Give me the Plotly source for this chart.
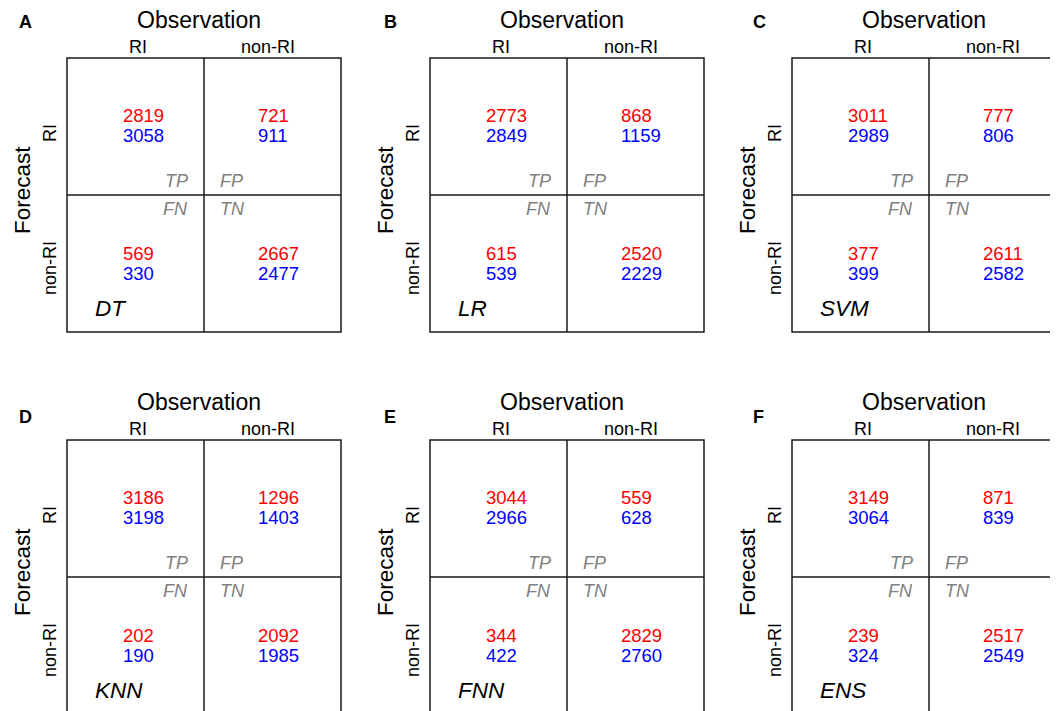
import plotly.graph_objects as go

# ---------------- data ----------------
panel_letters = ["A", "B", "C", "D", "E", "F"]
models = ["DT", "LR", "SVM", "KNN", "FNN", "ENS"]
col_labels = ["RI", "non-RI"]
row_labels = ["RI", "non-RI"]
cell_tags = ["TP", "FP", "FN", "TN"]

tp_red = [2819, 2773, 3011, 3186, 3044, 3149]
fp_red = [721, 868, 777, 1296, 559, 871]
fn_red = [569, 615, 377, 202, 344, 239]
tn_red = [2667, 2520, 2611, 2092, 2829, 2517]

tp_blue = [3058, 2849, 2989, 3198, 2966, 3064]
fp_blue = [911, 1159, 806, 1403, 628, 839]
fn_blue = [330, 539, 399, 190, 422, 324]
tn_blue = [2477, 2229, 2582, 1985, 2760, 2549]

# ---------------- layout constants ----------------
W, H = 1058, 711
PAGE_OFFSET = 8  # default body margin of the html page
FONT = "Liberation Sans, Arial, sans-serif"
RED = "#ff0000"
BLUE = "#0000ff"
GRAY = "#808080"
LINE = "#1a1a1a"

box_left = [67, 430, 792, 67, 430, 792]
box_top = [58, 58, 58, 440, 440, 440]
letter_pos = [(25, 22), (390, 22), (759, 22), (25, 417), (390, 417), (758, 417)]
BOX_W, BOX_H = 274, 274
HALF_W, HALF_H = 137, 137

fig = go.Figure()
shapes = []
ann = []


def add_text(x, y, text, size, color="black", xanchor="center", angle=0,
             italic=False, bold=False):
    t = text
    if bold:
        t = "<b>" + t + "</b>"
    if italic:
        t = "<i>" + t + "</i>"
    ann.append(dict(x=x, y=y, xref="x", yref="y", text=t, showarrow=False,
                    xanchor=xanchor, yanchor="middle", textangle=angle,
                    font=dict(family=FONT, size=size, color=color)))


for i in range(6):
    L, T = box_left[i], box_top[i]
    # box and dividing lines
    shapes.append(dict(type="rect", xref="x", yref="y", x0=L, y0=T,
                       x1=L + BOX_W, y1=T + BOX_H,
                       line=dict(color=LINE, width=1.5)))
    shapes.append(dict(type="line", xref="x", yref="y", x0=L + HALF_W, y0=T,
                       x1=L + HALF_W, y1=T + BOX_H,
                       line=dict(color=LINE, width=1.5)))
    shapes.append(dict(type="line", xref="x", yref="y", x0=L, y0=T + HALF_H,
                       x1=L + BOX_W, y1=T + HALF_H,
                       line=dict(color=LINE, width=1.5)))

    # panel letter
    lx, ly = letter_pos[i]
    add_text(lx, ly, panel_letters[i], 18, bold=True)

    # headers
    add_text(L + 132, T - 38, "Observation", 23)
    add_text(L + 71, T - 11, col_labels[0], 18)
    add_text(L + 201, T - 11, col_labels[1], 18)
    add_text(L - 45, T + 132, "Forecast", 22.5, angle=-90)
    add_text(L - 17, T + 75, row_labels[0], 18, angle=-90)
    add_text(L - 17, T + 210, row_labels[1], 18, angle=-90)

    # counts
    cells = [
        (tp_red[i], tp_blue[i], L + 54, T + 57, T + 77),
        (fp_red[i], fp_blue[i], L + 189, T + 57, T + 77),
        (fn_red[i], fn_blue[i], L + 54, T + 195, T + 215),
        (tn_red[i], tn_blue[i], L + 189, T + 195, T + 215),
    ]
    for r, b, x, yr, yb in cells:
        add_text(x, yr, str(r), 18.5, color=RED, xanchor="left")
        add_text(x, yb, str(b), 18.5, color=BLUE, xanchor="left")

    # cell tags
    add_text(L + 123, T + 123, cell_tags[0], 18, color=GRAY, xanchor="right", italic=True)
    add_text(L + 151, T + 123, cell_tags[1], 18, color=GRAY, xanchor="left", italic=True)
    add_text(L + 123, T + 151, cell_tags[2], 18, color=GRAY, xanchor="right", italic=True)
    add_text(L + 151, T + 151, cell_tags[3], 18, color=GRAY, xanchor="left", italic=True)

    # model name
    add_text(L + 26, T + 250, models[i], 22.5, xanchor="left", italic=True)

fig.update_layout(
    width=W, height=H,
    margin=dict(l=0, r=0, t=0, b=0),
    paper_bgcolor="white", plot_bgcolor="white",
    shapes=shapes, annotations=ann, showlegend=False,
    xaxis=dict(range=[PAGE_OFFSET, W + PAGE_OFFSET], visible=False, fixedrange=True),
    yaxis=dict(range=[H + PAGE_OFFSET, PAGE_OFFSET], visible=False, fixedrange=True),
)

fig.write_html("out.html")
